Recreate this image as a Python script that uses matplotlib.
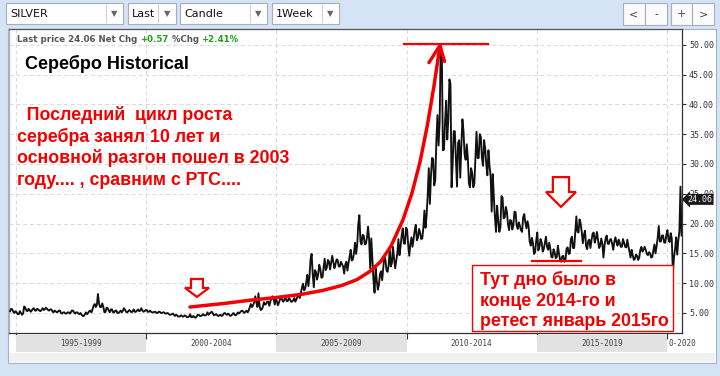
import matplotlib
matplotlib.use('Agg')
import matplotlib.pyplot as plt
import numpy as np
from matplotlib.patches import Rectangle, Polygon

# monthly high / low of silver (USD/oz), Oct 1994 .. Jul 2020, one year per row
month_high = [
    5.7, 5.6, 5.3,
    5.1, 5.3, 5.0, 6.1, 5.9, 5.7, 5.5, 5.7, 5.8, 5.7, 5.6, 5.5,
    5.8, 5.9, 5.7, 5.6, 5.6, 5.4, 5.3, 5.4, 5.4, 5.1, 5.1, 5.1,
    5.1, 5.4, 5.4, 5.1, 5.1, 5.0, 4.7, 4.8, 5.1, 5.3, 5.4, 6.2,
    6.5, 8.2, 6.6, 6.6, 6.0, 5.9, 5.8, 5.6, 5.6, 5.4, 5.4, 5.2,
    5.4, 5.8, 5.5, 5.3, 5.5, 5.3, 5.6, 5.4, 5.6, 5.8, 5.4, 5.5,
    5.5, 5.4, 5.2, 5.2, 5.2, 5.2, 5.2, 5.1, 5.1, 5.0, 4.9, 4.8,
    4.9, 4.7, 4.6, 4.5, 4.6, 4.6, 4.5, 4.4, 4.8, 4.5, 4.3, 4.7,
    4.7, 4.6, 4.8, 4.7, 5.1, 5.1, 5.2, 4.7, 4.8, 4.6, 4.7, 4.9,
    5.0, 4.9, 4.7, 4.8, 5.0, 4.8, 5.1, 5.3, 5.4, 5.2, 5.4, 6.0,
    6.5, 6.8, 7.8, 8.3, 6.2, 6.0, 6.8, 6.9, 6.9, 7.4, 7.8, 7.6,
    6.9, 7.4, 7.6, 7.3, 7.5, 7.5, 7.3, 7.1, 7.5, 7.7, 8.2, 9.2,
    9.9, 10.1, 11.4, 14.0, 14.9, 12.2, 11.9, 13.1, 12.4, 12.5, 14.1, 13.9,
    13.6, 14.6, 13.6, 14.0, 13.9, 13.6, 13.2, 13.1, 13.6, 14.4, 15.6, 15.0,
    16.8, 19.9, 21.4, 18.1, 18.0, 17.6, 19.5, 17.5, 14.0, 12.5, 10.5, 11.5,
    12.0, 14.5, 14.0, 13.0, 15.8, 16.1, 14.1, 15.0, 17.4, 18.0, 19.2, 19.3,
    19.0, 16.5, 17.7, 18.8, 19.8, 19.1, 18.5, 19.3, 22.2, 24.8, 29.3, 31.0,
    30.9, 34.0, 38.2, 49.8, 48.7, 37.1, 40.6, 44.2, 43.4, 35.5, 35.5, 33.5,
    34.0, 37.5, 35.5, 33.3, 31.0, 29.3, 28.5, 31.0, 35.4, 35.0, 34.5, 34.0,
    32.5, 32.3, 29.7, 28.3, 24.3, 23.0, 20.5, 24.6, 24.4, 22.8, 22.0, 20.6,
    20.5, 22.0, 21.9, 20.2, 19.6, 21.1, 21.6, 20.4, 19.5, 17.6, 16.8, 17.1,
    18.5, 17.4, 16.9, 16.7, 17.8, 16.8, 15.8, 15.7, 15.2, 16.3, 15.0, 14.5,
    14.6, 15.8, 16.0, 17.4, 17.8, 18.4, 21.2, 20.7, 20.0, 18.1, 18.8, 17.1,
    17.3, 18.3, 18.5, 18.6, 17.3, 17.5, 16.6, 17.5, 18.0, 17.3, 17.4, 16.9,
    17.7, 17.3, 16.8, 17.4, 16.8, 17.3, 16.2, 15.6, 14.7, 14.8, 14.6, 15.6,
    16.1, 16.1, 15.6, 15.2, 15.0, 15.5, 16.5, 17.6, 19.6, 18.0, 18.0, 18.1,
    18.9, 18.4, 17.5, 15.7, 17.7, 18.6, 26.2,
]
month_low = [
    5.3, 5.2, 5.0,
    4.8, 4.8, 4.7, 4.9, 5.4, 5.3, 5.2, 5.4, 5.4, 5.4, 5.4, 5.3,
    5.5, 5.6, 5.5, 5.4, 5.3, 5.1, 5.1, 5.2, 5.0, 4.9, 4.9, 4.9,
    4.9, 5.1, 5.1, 4.9, 4.9, 4.8, 4.5, 4.5, 4.8, 5.0, 5.1, 5.6,
    6.0, 6.3, 6.0, 6.0, 5.1, 5.2, 5.4, 5.1, 5.1, 5.1, 5.0, 5.0,
    5.1, 5.4, 5.2, 5.1, 5.3, 5.1, 5.2, 5.2, 5.3, 5.4, 5.2, 5.3,
    5.2, 5.2, 5.1, 5.1, 5.0, 5.0, 5.0, 5.0, 4.9, 4.9, 4.7, 4.7,
    4.7, 4.5, 4.4, 4.4, 4.4, 4.4, 4.3, 4.3, 4.3, 4.3, 4.2, 4.4,
    4.5, 4.5, 4.6, 4.6, 4.7, 4.9, 4.9, 4.6, 4.6, 4.5, 4.5, 4.6,
    4.8, 4.7, 4.5, 4.6, 4.7, 4.6, 4.9, 5.1, 5.2, 5.0, 5.1, 5.4,
    6.0, 6.3, 6.8, 6.0, 5.5, 5.6, 6.4, 6.5, 6.2, 7.0, 7.3, 6.4,
    6.3, 6.8, 7.1, 6.9, 7.0, 7.0, 6.9, 6.9, 6.9, 7.3, 7.5, 8.3,
    8.8, 9.0, 9.5, 11.1, 11.5, 9.3, 10.6, 11.4, 10.9, 11.0, 12.2, 12.6,
    12.3, 13.4, 12.5, 13.2, 12.8, 12.8, 12.8, 11.6, 12.1, 13.4, 13.8, 14.0,
    14.9, 16.4, 17.0, 16.5, 16.5, 16.6, 17.3, 12.5, 10.5, 8.4, 8.9, 9.7,
    10.5, 12.5, 12.2, 11.9, 12.8, 13.4, 12.5, 13.8, 14.7, 16.2, 16.7, 16.6,
    16.4, 14.6, 16.1, 17.5, 17.2, 17.6, 17.4, 17.5, 19.3, 21.4, 23.3, 28.0,
    26.4, 27.3, 33.1, 37.0, 32.3, 32.4, 34.1, 37.5, 26.1, 30.0, 31.0, 26.2,
    27.7, 33.0, 31.6, 30.7, 26.7, 26.1, 26.1, 26.7, 31.0, 31.0, 31.0, 29.7,
    29.9, 28.1, 28.0, 22.0, 21.0, 18.6, 18.6, 19.3, 20.9, 21.0, 19.9, 18.9,
    19.0, 19.8, 19.7, 19.1, 18.9, 18.6, 20.2, 19.2, 17.0, 16.3, 14.9, 15.2,
    15.5, 16.1, 15.3, 15.7, 16.1, 15.6, 14.4, 14.3, 14.2, 14.4, 13.9, 13.6,
    13.6, 13.9, 14.9, 15.0, 15.9, 15.9, 18.7, 18.5, 18.6, 16.7, 16.2, 15.7,
    15.9, 17.2, 16.8, 17.5, 15.9, 16.3, 14.3, 16.3, 16.6, 16.6, 16.6, 15.6,
    16.9, 16.3, 16.1, 16.1, 16.1, 16.0, 15.3, 14.3, 13.9, 14.1, 13.9, 14.3,
    15.3, 15.6, 14.9, 14.7, 14.3, 14.4, 15.0, 16.2, 17.0, 17.0, 16.8, 16.8,
    17.3, 16.9, 11.7, 14.3, 14.8, 17.2, 18.0,
]
first_month = 1994 + 9 / 12

price_ticks = [5, 10, 15, 20, 25, 30, 35, 40, 45, 50]
period_edges = [1995, 2000, 2005, 2010, 2015, 2020]
period_labels = ['1995-1999', '2000-2004', '2005-2009', '2010-2014', '2015-2019']
last_price = 24.06
net_chg = 0.57
pct_chg = 2.41

# hand drawn red marks, in (year, price)
curve_years = [2001.68, 2003.0, 2004.0, 2005.0, 2006.0, 2006.8, 2007.5, 2008.1, 2008.6,
               2009.0, 2009.4, 2009.86, 2010.2, 2010.51, 2010.8, 2011.05, 2011.28]
curve_prices = [6.0, 6.6, 7.15, 7.6, 8.15, 8.8, 9.6, 10.6, 12.0,
                13.6, 16.2, 20.6, 25.0, 30.2, 36.5, 43.0, 49.7]
peak_line = ([2009.90, 2013.13], [50.13, 50.13])
bottom_line = ([2014.82, 2016.70], [13.72, 13.72])

left_note = ['  Последний  цикл роста', 'серебра занял 10 лет и',
             'основной разгон пошел в 2003', 'году.... , сравним с РТС....']
box_note = ['Тут дно было в', 'конце 2014-го и', 'ретест январь 2015го']

RED = '#f40000'
W, H = 720, 376


def fx(x):
    return x / W


def fy(y):
    return 1 - y / H


def down_arrow(ax, cx, top, tip, width, shaft, head):
    pts = [(cx - shaft / 2, top), (cx + shaft / 2, top), (cx + shaft / 2, head),
           (cx + width / 2, head), (cx, tip), (cx - width / 2, head),
           (cx - shaft / 2, head)]
    ax.add_patch(Polygon(pts, closed=True, fc='white', ec=RED, lw=1.6,
                         joinstyle='miter', zorder=6, clip_on=False))


plt.rcParams['font.family'] = ['Liberation Sans', 'DejaVu Sans']
fig = plt.figure(figsize=(7.2, 3.76), dpi=100)
fig.patch.set_facecolor('#d4e3f6')

# panel behind the chart
fig.patches.append(Rectangle((fx(8), fy(363)), (716 - 8) / W, (363 - 29) / H,
                             transform=fig.transFigure, fc='white', ec='#a4b2c2',
                             lw=0.8, zorder=-3))
fig.patches.append(Rectangle((fx(9), fy(362)), (715 - 9) / W, (362 - 353) / H,
                             transform=fig.transFigure, fc='#f1f1f1', ec='none', zorder=-2))

# toolbar
dropdowns = [('SILVER', 6, 123, 106), ('Last', 128, 176, 158),
             ('Candle', 180, 267, 250), ('1Week', 272, 339, 322)]
for label, x0, x1, sep in dropdowns:
    fig.patches.append(Rectangle((fx(x0), fy(24)), (x1 - x0) / W, 21 / H,
                                 transform=fig.transFigure, fc='white', ec='#a6aeb8', lw=0.8))
    fig.add_artist(plt.Line2D([fx(sep), fx(sep)], [fy(5), fy(22)], color='#cfcfcf', lw=0.8))
    fig.text(fx(x0 + 4), fy(14), label, fontsize=8, family='DejaVu Sans',
             color='#111111', va='center', ha='left')
    fig.text(fx((sep + x1) / 2), fy(14), '▼', fontsize=6, family='DejaVu Sans',
             color='#666666', va='center', ha='center')

for label, x0, x1 in [('<', 623, 645), ('-', 645, 667), ('+', 671, 692), ('>', 692, 714)]:
    fig.patches.append(Rectangle((fx(x0), fy(25)), (x1 - x0) / W, 22 / H,
                                 transform=fig.transFigure, fc='#fbfbfb', ec='#a6aeb8', lw=0.8))
    fig.text(fx((x0 + x1) / 2), fy(14), label, fontsize=8, family='DejaVu Sans',
             color='#444444', va='center', ha='center')

# main price axes
ax = fig.add_axes([fx(9), fy(333), (682 - 9) / W, (333 - 29) / H])
ax.set_facecolor('none')

# weekly candles are too dense to resolve, so zigzag through each month's range
hi = np.array(month_high)
lo = np.array(month_low)
mid = first_month + (np.arange(len(hi)) + 0.5) / 12
flip = np.arange(len(hi)) % 2 == 1
first = np.where(flip, hi, lo)
second = np.where(flip, lo, hi)
zz_x = np.column_stack([mid - 0.25 / 12, mid + 0.25 / 12]).ravel()
zz_y = np.column_stack([first, second]).ravel()
ax.plot(zz_x, zz_y, color='#111111', lw=1.35, zorder=3)

ax.set_xlim(1994.73, 2020.58)
ax.set_ylim(1.64, 52.65)
ax.yaxis.tick_right()
ax.set_yticks(price_ticks)
ax.set_yticklabels([f'{v:.2f}' for v in price_ticks], family='DejaVu Sans Mono',
                   fontsize=6, color='#333333')
ax.tick_params(axis='y', length=3, width=0.8, color='#333333', pad=2)
ax.set_xticks(period_edges)
ax.set_xticklabels([])
ax.tick_params(axis='x', length=4, width=0.8, color='#333333')
ax.grid(True, ls=(0, (4, 3)), color='#d9d9d9', lw=0.7)
ax.set_axisbelow(True)
for side, col in [('top', '#555555'), ('right', '#333333'), ('bottom', '#333333'), ('left', '#b0b0b0')]:
    ax.spines[side].set_color(col)
    ax.spines[side].set_linewidth(0.9)

ax.annotate(f'{last_price:.2f}', xy=(1.0, last_price), xycoords=('axes fraction', 'data'),
            xytext=(4, 0), textcoords='offset points', ha='left', va='center',
            fontsize=6, family='DejaVu Sans Mono', color='white',
            bbox=dict(boxstyle='larrow,pad=0.12', fc='#1b1b1b', ec='none'),
            annotation_clip=False, zorder=8)

# period bar under the chart
axb = fig.add_axes([fx(9), fy(352), (682 - 9) / W, (352 - 335) / H])
axb.set_xlim(ax.get_xlim())
axb.set_ylim(0, 1)
axb.axis('off')
for i, lab in enumerate(period_labels):
    a, b = period_edges[i], period_edges[i + 1]
    if i % 2 == 0:
        axb.axvspan(a, b, color='#e2e2e2', lw=0)
    axb.text((a + b) / 2, 0.5, lab, ha='center', va='center', fontsize=5.5,
             family='DejaVu Sans Mono', color='#444444')
axb.text(period_edges[-1] + 0.06, 0.5, '0-2020', ha='left', va='center', fontsize=5.5,
         family='DejaVu Sans Mono', color='#444444', clip_on=False)

# red annotations
ax.plot(curve_years, curve_prices, color=RED, lw=2.5, solid_capstyle='round',
        solid_joinstyle='round', zorder=6)
ax.plot([2010.86, curve_years[-1], 2011.46], [47.0, curve_prices[-1] + 0.2, 47.2],
        color=RED, lw=2.4, solid_capstyle='round', zorder=6)
ax.plot(*peak_line, color=RED, lw=1.6, zorder=6, clip_on=False)
ax.plot(*bottom_line, color=RED, lw=1.6, zorder=6)
down_arrow(ax, 2001.95, 10.7, 7.7, 0.92, 0.46, 9.2)
down_arrow(ax, 2015.93, 27.8, 22.8, 1.15, 0.62, 25.3)

ax.add_patch(Rectangle((2012.51, 1.98), 2020.23 - 2012.51, 13.05 - 1.98,
                       fc='white', ec=RED, lw=1.0, zorder=7))
for i, line in enumerate(box_note):
    fig.text(fx(480), fy(280 + 21 * i), line, color=RED, fontsize=12.8,
             weight='bold', va='center', ha='left', zorder=9)

fig.text(fx(25), fy(64), 'Серебро Historical', fontsize=13, weight='bold',
         color='black', va='center', ha='left')
for i, line in enumerate(left_note):
    fig.text(fx(17), fy(115 + 21.7 * i), line, color=RED, fontsize=12.8,
             weight='bold', va='center', ha='left')

# quote line at the top of the panel
renderer = fig.canvas.get_renderer()
pieces = [('Last price 24.06 Net Chg ', '#555555'), (f'+{net_chg:.2f}', '#19a319'),
          (' %Chg ', '#555555'), (f'+{pct_chg:.2f}%', '#19a319')]
xpos = fx(17)
for txt, col in pieces:
    t = fig.text(xpos, fy(40), txt, fontsize=6.2, weight='bold', family='DejaVu Sans',
                 color=col, va='center', ha='left')
    bb = t.get_window_extent(renderer)
    xpos += bb.width / W

fig.savefig('out.png', dpi=100)
